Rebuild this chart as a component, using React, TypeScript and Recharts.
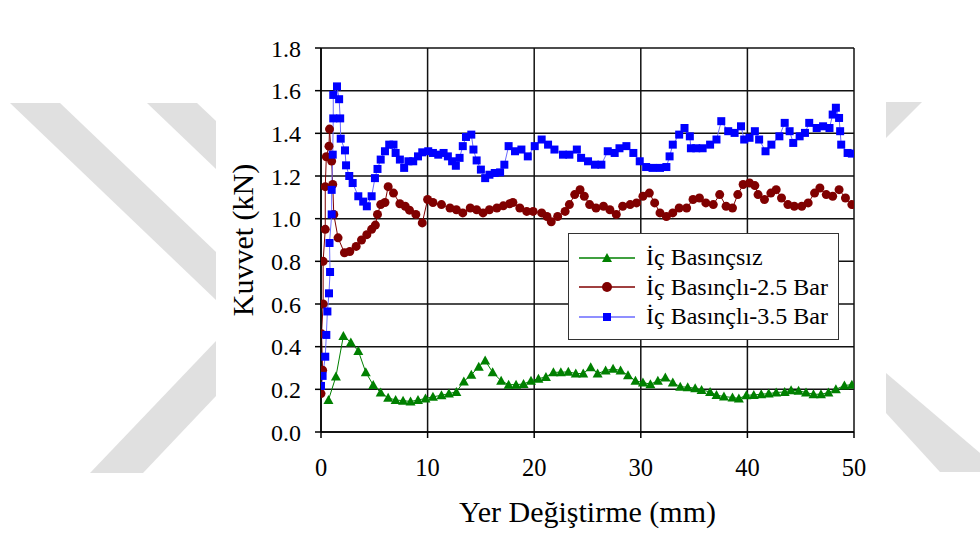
import React from "react";
import { LineChart, Line, XAxis, YAxis, CartesianGrid, Legend, Label } from "recharts";

// axis ticks
const xTicks = [0, 10, 20, 30, 40, 50];
const yTicks = [0, 0.2, 0.4, 0.6, 0.8, 1.0, 1.2, 1.4, 1.6, 1.8];

// [displacement (mm), force (kN)]
const basincsiz: [number, number][] = [
    [0.7, 0.15], [1.4, 0.26], [2.1, 0.45], [2.8, 0.42], [3.5, 0.38], [4.2, 0.28], [4.9, 0.22],
    [5.6, 0.185], [6.3, 0.16], [7.0, 0.15], [7.7, 0.147], [8.4, 0.143], [9.1, 0.15], [9.8, 0.157],
    [10.5, 0.165], [11.3, 0.172], [12.0, 0.18], [12.7, 0.188], [13.4, 0.237], [14.1, 0.268],
    [14.8, 0.306], [15.4, 0.335], [16.1, 0.28], [16.9, 0.24], [17.6, 0.222], [18.3, 0.222],
    [19.0, 0.225], [19.7, 0.24], [20.4, 0.25], [21.1, 0.258], [21.8, 0.28], [22.5, 0.28],
    [23.2, 0.282], [23.9, 0.274], [24.6, 0.274], [25.3, 0.304], [25.95, 0.274], [26.7, 0.288],
    [27.4, 0.296], [28.1, 0.288], [28.8, 0.266], [29.5, 0.24], [30.2, 0.232], [30.9, 0.224],
    [31.6, 0.24], [32.3, 0.255], [33.0, 0.232], [33.7, 0.212], [34.4, 0.21], [35.1, 0.205],
    [35.7, 0.197], [36.5, 0.188], [37.1, 0.173], [37.8, 0.166], [38.6, 0.162], [39.2, 0.157],
    [39.9, 0.172], [40.6, 0.174], [41.3, 0.177], [42.0, 0.18], [42.7, 0.185], [43.5, 0.188],
    [44.1, 0.196], [44.8, 0.193], [45.5, 0.185], [46.2, 0.177], [46.9, 0.177], [47.6, 0.185],
    [48.3, 0.2], [49.1, 0.218], [49.8, 0.222],
];

const basincli25: [number, number][] = [
    [0, 0.18], [0.15, 0.29], [0.05, 0.46], [0.2, 0.6], [0.2, 0.8], [0.4, 0.95], [0.4, 1.15],
    [0.5, 1.29], [0.75, 1.34], [0.8, 1.42], [1.0, 1.27], [1.1, 1.16], [1.2, 1.02], [1.6, 0.91],
    [2.2, 0.84], [2.7, 0.846], [3.3, 0.87], [3.8, 0.9], [4.3, 0.925], [4.75, 0.95], [5.1, 0.97],
    [5.3, 1.02], [5.6, 1.066], [6.0, 1.076], [6.3, 1.15], [6.8, 1.12], [7.4, 1.07], [7.9, 1.058],
    [8.3, 1.04], [8.9, 1.02], [9.5, 0.98], [10.0, 1.09], [10.5, 1.076], [11.3, 1.066], [12.1, 1.05],
    [12.7, 1.042], [13.3, 1.027], [14.0, 1.05], [14.6, 1.042], [15.2, 1.027], [15.8, 1.042],
    [16.5, 1.05], [17.1, 1.06], [17.7, 1.07], [18.0, 1.076], [18.65, 1.05], [19.3, 1.034],
    [19.9, 1.034], [20.7, 1.027], [21.2, 1.01], [21.6, 0.985], [22.2, 1.01], [22.9, 1.034],
    [23.3, 1.066], [23.8, 1.113], [24.3, 1.136], [24.7, 1.105], [25.2, 1.066], [25.8, 1.05],
    [26.5, 1.058], [27.1, 1.042], [27.7, 1.02], [28.3, 1.058], [29.0, 1.066], [29.6, 1.074],
    [30.2, 1.105], [30.8, 1.12], [31.3, 1.074], [31.8, 1.027], [32.4, 1.01], [33.0, 1.027],
    [33.6, 1.05], [34.3, 1.05], [34.9, 1.09], [35.5, 1.097], [36.1, 1.074], [36.8, 1.066],
    [37.4, 1.113], [38.0, 1.058], [38.6, 1.05], [39.1, 1.113], [39.6, 1.16], [40.2, 1.167],
    [40.7, 1.155], [41.0, 1.113], [41.6, 1.09], [42.2, 1.12], [42.7, 1.136], [43.2, 1.097],
    [43.8, 1.066], [44.4, 1.058], [45.1, 1.058], [45.7, 1.074], [46.3, 1.12], [46.8, 1.144],
    [47.4, 1.113], [48.0, 1.105], [48.6, 1.136], [49.2, 1.097], [49.8, 1.066],
];

const basincli35: [number, number][] = [
    [0, 0.216], [0.15, 0.263], [0.4, 0.353], [0.5, 0.455], [0.6, 0.565], [0.75, 0.65], [0.85, 0.75],
    [0.8, 0.886], [1.0, 1.02], [1.0, 1.135], [1.1, 1.3], [1.15, 1.47], [1.15, 1.58], [1.5, 1.62],
    [1.7, 1.56], [1.8, 1.47], [1.85, 1.375], [2.25, 1.32], [2.35, 1.25], [2.65, 1.2], [2.97, 1.167],
    [3.5, 1.105], [3.96, 1.08], [4.3, 1.058], [4.75, 1.105], [5.06, 1.19], [5.3, 1.233], [5.6, 1.277],
    [6.0, 1.316], [6.4, 1.347], [6.8, 1.347], [7.0, 1.308], [7.4, 1.277], [7.8, 1.238], [8.2, 1.269],
    [8.65, 1.269], [9.1, 1.292], [9.5, 1.311], [10.06, 1.316], [10.5, 1.308], [11.0, 1.3],
    [11.5, 1.308], [11.9, 1.292], [12.3, 1.269], [12.65, 1.248], [13.0, 1.285], [13.3, 1.34],
    [13.6, 1.383], [14.1, 1.394], [14.3, 1.324], [14.6, 1.273], [15.0, 1.23], [15.4, 1.19],
    [15.8, 1.206], [16.3, 1.214], [16.8, 1.217], [17.2, 1.253], [17.6, 1.34], [18.2, 1.316],
    [18.8, 1.324], [19.4, 1.292], [20.05, 1.34], [20.7, 1.371], [21.3, 1.347], [21.9, 1.324],
    [22.7, 1.3], [23.3, 1.3], [24.0, 1.324], [24.4, 1.285], [25.05, 1.269], [25.7, 1.253],
    [26.3, 1.253], [26.9, 1.316], [27.55, 1.308], [28.0, 1.33], [28.65, 1.34], [29.3, 1.308],
    [29.9, 1.269], [30.5, 1.242], [31.1, 1.238], [31.8, 1.238], [32.4, 1.242], [32.7, 1.292],
    [33.0, 1.347], [33.6, 1.394], [34.1, 1.425], [34.6, 1.386], [34.7, 1.33], [35.2, 1.33],
    [35.8, 1.33], [36.5, 1.347], [37.1, 1.371], [37.55, 1.457], [38.2, 1.41], [38.8, 1.402],
    [39.4, 1.433], [39.7, 1.371], [40.2, 1.379], [40.7, 1.41], [41.1, 1.371], [41.7, 1.316],
    [42.25, 1.347], [43.0, 1.386], [43.5, 1.449], [43.96, 1.41], [44.3, 1.355], [44.9, 1.386],
    [45.4, 1.402], [45.8, 1.449], [46.5, 1.425], [47.1, 1.433], [47.7, 1.425], [48.0, 1.488],
    [48.3, 1.52], [48.6, 1.472], [48.7, 1.41], [48.8, 1.347], [49.4, 1.308], [49.8, 1.305],
];

const seriesNames = ["İç Basınçsız", "İç Basınçlı-2.5 Bar", "İç Basınçlı-3.5 Bar"];

const FONT = "Liberation Serif, Tinos, Times New Roman, DejaVu Serif, serif";
const GREEN = "#008000";
const RED = "#800000";
const BLUE = "#0000ff";
const BLUE_LINE = "#6a6aff";

const toPoints = (rows: [number, number][]) => rows.map(([x, y]) => ({ x, y }));

// background watermark (thesis logo chevrons), purely decorative
const watermark = [
    "10,103 60,103 216,252 216,300",
    "147,103 197,103 216,121 216,169",
    "216,341 216,396 143,473 90,473",
    "886,102 922,102 886,138",
    "886,373 980,453 980,472 940,472 886,413",
];

const triangleDot = (props: any) => {
    const { cx, cy, index } = props;
    if (cx == null || cy == null) return <g key={`t-${index}`} />;
    return (
        <polygon
            key={`t-${index}`}
            points={`${cx},${cy - 5} ${cx + 5},${cy + 4} ${cx - 5},${cy + 4}`}
            fill={GREEN}
        />
    );
};

const squareDot = (props: any) => {
    const { cx, cy, index } = props;
    if (cx == null || cy == null) return <g key={`s-${index}`} />;
    return <rect key={`s-${index}`} x={cx - 4} y={cy - 4} width={8} height={8} fill={BLUE} />;
};

const legendIcon = (i: number) => {
    if (i === 0) return <polygon points="28,5 33,14 23,14" fill={GREEN} />;
    if (i === 1) return <circle cx={28} cy={10} r={5} fill={RED} />;
    return <rect x={24} y={6} width={8} height={8} fill={BLUE} />;
};

const legendColors = [GREEN, RED, BLUE_LINE];

const renderLegend = () => (
    <div
        style={{
            width: 271,
            height: 107,
            boxSizing: "border-box",
            border: "1px solid #333",
            background: "#fff",
            paddingTop: 9,
            fontFamily: FONT,
            fontSize: 24,
            color: "#000",
        }}
    >
        {seriesNames.map((name, i) => (
            <div key={name} style={{ display: "flex", alignItems: "center", height: 29.5 }}>
                <svg width={56} height={20} style={{ marginLeft: 10 }}>
                    <line x1={0} y1={10} x2={56} y2={10} stroke={legendColors[i]} strokeWidth={1.5} />
                    {legendIcon(i)}
                </svg>
                <span style={{ marginLeft: 11, whiteSpace: "nowrap" }}>{name}</span>
            </div>
        ))}
    </div>
);

export default function App() {
    return (
        <div style={{ position: "absolute", left: 0, top: 0, width: 980, height: 536, background: "#fff", fontFamily: FONT }}>
            <svg width={980} height={536} style={{ position: "absolute", left: 0, top: 0 }}>
                {watermark.map(p => (
                    <polygon key={p} points={p} fill="#e0e0e0" />
                ))}
            </svg>
            <div style={{ position: "absolute", left: 0, top: 0 }}>
                <LineChart
                    width={980}
                    height={536}
                    margin={{ top: 48, right: 126, left: 221, bottom: 0 }}
                    style={{ fontFamily: FONT }}
                >
                    <CartesianGrid stroke="#111" strokeWidth={1.5} horizontalValues={yTicks} verticalValues={xTicks} />
                    <XAxis
                        type="number"
                        dataKey="x"
                        domain={[0, 50]}
                        ticks={xTicks}
                        height={104}
                        tickSize={6}
                        tickMargin={21}
                        stroke="#000"
                        strokeWidth={1.5}
                        tick={{ fill: "#000", fontSize: 24.5, fontFamily: FONT }}
                        allowDataOverflow
                    >
                        <Label
                            value="Yer Değiştirme (mm)"
                            position="insideBottom"
                            offset={14}
                            style={{ fill: "#000", fontSize: 30, fontFamily: FONT }}
                        />
                    </XAxis>
                    <YAxis
                        type="number"
                        dataKey="y"
                        domain={[0, 1.8]}
                        ticks={yTicks}
                        width={100}
                        tickSize={6}
                        tickMargin={14}
                        stroke="#000"
                        strokeWidth={1.5}
                        tickFormatter={(v: number) => v.toFixed(1)}
                        tick={{ fill: "#000", fontSize: 24, fontFamily: FONT }}
                        allowDataOverflow
                    >
                        <Label
                            value="Kuvvet (kN)"
                            angle={-90}
                            position="insideLeft"
                            offset={21}
                            style={{ fill: "#000", fontSize: 30, fontFamily: FONT, textAnchor: "middle" }}
                        />
                    </YAxis>
                    <Legend
                        content={renderLegend}
                        layout="horizontal"
                        verticalAlign="middle"
                        align="center"
                        wrapperStyle={{ left: 568, top: 233, width: 271, height: 107 }}
                    />
                    <Line
                        name={seriesNames[0]}
                        data={toPoints(basincsiz)}
                        dataKey="y"
                        type="linear"
                        stroke={GREEN}
                        strokeWidth={1}
                        dot={triangleDot}
                        isAnimationActive={false}
                    />
                    <Line
                        name={seriesNames[1]}
                        data={toPoints(basincli25)}
                        dataKey="y"
                        type="linear"
                        stroke={RED}
                        strokeWidth={1}
                        dot={{ r: 4.5, fill: RED, stroke: RED, strokeWidth: 0 }}
                        isAnimationActive={false}
                    />
                    <Line
                        name={seriesNames[2]}
                        data={toPoints(basincli35)}
                        dataKey="y"
                        type="linear"
                        stroke={BLUE_LINE}
                        strokeWidth={1}
                        dot={squareDot}
                        isAnimationActive={false}
                    />
                </LineChart>
            </div>
        </div>
    );
}
